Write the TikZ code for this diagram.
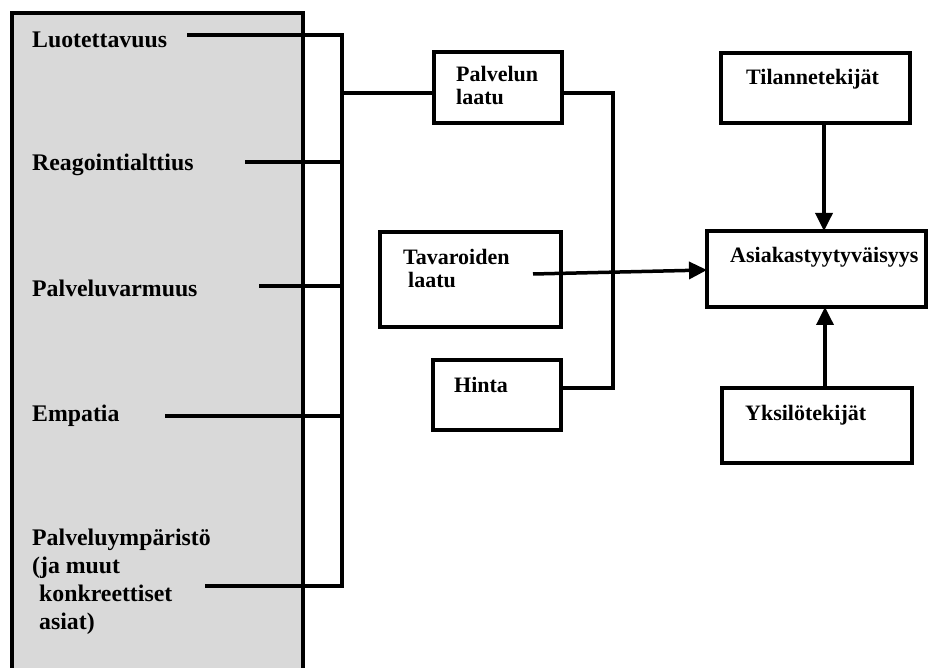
\documentclass[tikz,border=0pt]{standalone}
\usepackage{fontspec}
\setmainfont{Liberation Serif}
\usetikzlibrary{arrows.meta}
\definecolor{panelgray}{RGB}{217,217,217}
\begin{document}
\begin{tikzpicture}[x=1pt,y=-1pt,
  box/.style={draw, line width=3.5pt, inner sep=0pt, outer sep=0pt},
  lbl/.style={font=\bfseries\fontsize{23.8}{28}\selectfont, inner sep=0pt, anchor=base west, align=left},
  rlbl/.style={font=\bfseries\fontsize{22}{23.5}\selectfont, inner sep=0pt, anchor=base west, align=left},
  link/.style={line width=3.5pt},
  arr/.style={line width=3.5pt, -{Triangle[width=17pt,length=18pt]}}]
\useasboundingbox (0,0) rectangle (929,668);

% grey panel of service-quality dimensions (open at the bottom)
\fill[panelgray] (12,13) rectangle (303,668);
\draw[line width=3.5pt] (12,668) -- (12,13) -- (303,13) -- (303,668);

% dimension labels (multi-line nodes sit on their last baseline)
\node[lbl] (d1) at (32,48) {Luotettavuus};
\node[lbl] (d2) at (32,171) {Reagointialttius};
\node[lbl] (d3) at (32,297) {Palveluvarmuus};
\node[lbl] (d4) at (32,421) {Empatia};
\node[lbl] (d5) at (32,629) {Palveluympäristö\\(ja muut\\\hspace{7pt}konkreettiset\\\hspace{7pt}asiat)};

% boxes
\node[box, minimum width=128, minimum height=71] (pl) at (498,87.5) {};
\node[box, minimum width=181, minimum height=95] (tv) at (470.5,279.5) {};
\node[box, minimum width=128, minimum height=70] (hi) at (497,395) {};
\node[box, minimum width=189, minimum height=70] (ti) at (815.5,88) {};
\node[box, minimum width=219, minimum height=76] (as) at (816.5,269) {};
\node[box, minimum width=190, minimum height=75] (yk) at (817,425.5) {};

% box labels
\node[rlbl] (plt) at (456,105) {Palvelun\\laatu};
\node[rlbl] (tvt) at (403,288) {Tavaroiden\\\hspace{5pt}laatu};
\node[rlbl] (hit) at (454,392) {Hinta};
\node[rlbl] (tit) at (746,85) {Tilannetekijät};
\node[rlbl] (ast) at (730,263) {Asiakastyytyväisyys};
\node[rlbl] (ykt) at (745,420) {Yksilötekijät};

% connector end points
\coordinate (s1) at (187,35);
\coordinate (s2) at (245,162);
\coordinate (s3) at (259,286);
\coordinate (s4) at (165,416);
\coordinate (s5) at (205,586);
\coordinate (bx) at (342,0);
\coordinate (bj) at (342,93);
\coordinate (rx) at (613,0);
\coordinate (ry1) at (0,93);
\coordinate (ry2) at (0,388);
\coordinate (ts) at (533,274);
\coordinate (ty) at (0,270);
\coordinate (ax1) at (824,0);
\coordinate (ax2) at (825,0);

% left bracket collecting the dimensions
\draw[link] (s1) -- (s1 -| bx) -- (s5 -| bx) -- (s5);
\draw[link] (s2) -- (s2 -| bx);
\draw[link] (s3) -- (s3 -| bx);
\draw[link] (s4) -- (s4 -| bx);
\draw[link] (bj) -- (bj -| pl.west);

% right bracket between service quality and price
\draw[link] (ry1 -| pl.east) -- (ry1 -| rx) -- (ry2 -| rx) -- (ry2 -| hi.east);

% arrows into customer satisfaction
\draw[arr] (ts) -- (ty -| as.west);
\draw[arr] (ti.south -| ax1) -- (as.north -| ax1);
\draw[arr] (yk.north -| ax2) -- (as.south -| ax2);
\end{tikzpicture}
\end{document}
